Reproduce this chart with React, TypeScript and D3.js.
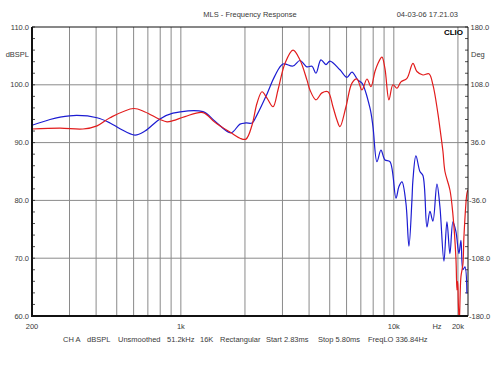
import * as d3 from 'd3'

// frequency response (Hz / dBSPL)
const blueFreq = [200, 243, 271, 325, 404, 465, 518, 609, 679, 798, 918, 1270, 1446, 1719, 1895, 2022, 2158, 2278, 2530, 2760, 3017, 3362, 3626, 3911, 4128, 4309, 4548, 4802, 5013, 5585, 6026, 6360, 6787, 7087, 7725, 7979, 8332, 8700, 9086, 9591, 10233, 10568, 10917, 11400, 11776, 12162, 12294, 12700, 13262, 13698, 14306, 14777, 15264, 15937, 16462, 17190, 17759, 18343, 18949, 19573, 20218, 20660, 21111, 21572, 22044]
const blueDb = [93.0, 94.0, 94.4, 94.7, 94.3, 93.4, 92.4, 91.3, 92.0, 94.1, 95.1, 95.35, 93.7, 91.7, 93.2, 93.4, 93.4, 94.8, 98.3, 101.5, 103.6, 103.25, 104.2, 103.1, 103.2, 102.0, 104.3, 103.5, 104.1, 102.6, 101.3, 102.2, 100.8, 100.3, 96.0, 92.8, 86.7, 88.7, 87.0, 86.7, 80.4, 82.4, 83.2, 79.5, 72.1, 80.0, 83.5, 87.7, 85.0, 84.3, 75.4, 78.1, 76.4, 82.8, 78.9, 69.5, 76.3, 70.8, 76.3, 74.6, 70.8, 73.1, 68.0, 68.5, 63.9]

const redFreq = [200, 271, 347, 404, 465, 600, 679, 798, 861, 918, 1046, 1270, 1446, 1719, 1895, 2022, 2158, 2278, 2404, 2538, 2708, 2858, 3082, 3362, 3626, 3911, 4039, 4309, 4598, 4906, 5178, 5407, 5585, 5961, 6360, 6713, 7087, 7480, 7809, 8154, 8422, 8795, 9086, 9487, 9906, 10343, 10800, 11524, 12294, 12838, 13698, 14618, 15264, 16110, 16462, 17005, 17380, 18343, 18949, 19573, 19786, 19950, 20100, 20300, 20660, 21111, 21341, 22044, 22282]
const redDb = [92.35, 92.5, 92.35, 92.9, 94.3, 95.9, 95.3, 94.0, 93.6, 93.8, 94.5, 95.2, 93.5, 91.7, 90.75, 90.6, 93.0, 96.8, 98.8, 97.7, 96.2, 99.1, 103.7, 106.0, 104.3, 100.8, 99.1, 97.4, 98.6, 98.8, 96.2, 93.9, 92.75, 96.2, 100.3, 101.0, 99.1, 101.0, 99.7, 102.3, 103.7, 104.8, 102.8, 97.4, 100.0, 99.4, 100.5, 101.1, 103.7, 102.3, 101.7, 101.9, 100.0, 95.0, 92.5, 88.5, 85.0, 81.8, 77.5, 70.0, 64.5, 66.0, 62.0, 59.0, 66.8, 69.0, 73.7, 81.2, 81.8]

const dbTicks = [110, 100, 90, 80, 70, 60]
const degTicks = [180, 108, 36, -36, -108, -180]
const gridFreqs = [300, 400, 500, 600, 700, 800, 900, 1000, 2000, 3000, 4000, 5000, 6000, 7000, 8000, 9000, 10000, 20000]
const freqLabels = [
  { f: 200, label: '200' },
  { f: 1000, label: '1k' },
  { f: 10000, label: '10k' },
  { f: 20000, label: '20k' },
]
const infoItems = ['CH A', 'dBSPL', 'Unsmoothed', '51.2kHz', '16K', 'Rectangular', 'Start 2.83ms', 'Stop 5.80ms', 'FreqLO 336.84Hz']
const infoX = [63, 87, 118, 167, 200, 220, 266, 318, 368]

const font = '"Liberation Sans", Arial, sans-serif'
const textCol = '#3a3a3a'

const App = () => {
  const svgWidth = 500
  const svgHeight = 375
  const left = 32
  const right = 468
  const top = 27
  const bottom = 316

  const x = d3.scaleLog().domain([200, 22300]).range([left, right])
  const y = d3.scaleLinear().domain([60, 110]).range([bottom, top])
  const yDeg = d3.scaleLinear().domain([-180, 180]).range([bottom, top])

  const line = d3
    .line<[number, number]>()
    .x(d => x(d[0]))
    .y(d => y(d[1]))
    .curve(d3.curveCatmullRom.alpha(0.5))

  const blue = line(blueFreq.map((f, i) => [f, blueDb[i]])) as string
  const red = line(redFreq.map((f, i) => [f, redDb[i]])) as string

  const minor = d3.range(60, 110.01, 2)

  return (
    <svg
      width={svgWidth}
      height={svgHeight}
      style={{ position: 'absolute', left: 0, top: 0, background: '#fff' }}
      fontFamily={font}
    >
      <defs>
        <clipPath id="plot">
          <rect x={left} y={top} width={right - left} height={bottom - top} />
        </clipPath>
      </defs>
      <rect width={svgWidth} height={svgHeight} fill="#fff" />

      {/* grid */}
      {gridFreqs.map(f => (
        <line key={f} x1={x(f)} x2={x(f)} y1={top} y2={bottom} stroke="#8a8a8a" strokeWidth={1} />
      ))}
      {dbTicks.slice(1, -1).map(v => (
        <line key={v} x1={left} x2={right} y1={y(v)} y2={y(v)} stroke="#8a8a8a" strokeWidth={1} />
      ))}

      {/* minor ticks, inside both vertical axes */}
      {minor.map(v => (
        <g key={v}>
          <line x1={left} x2={left + 3} y1={y(v)} y2={y(v)} stroke="#222" strokeWidth={0.8} />
          <line x1={right - 3} x2={right} y1={y(v)} y2={y(v)} stroke="#222" strokeWidth={0.8} />
        </g>
      ))}

      {/* curves */}
      <g clipPath="url(#plot)" fill="none" strokeWidth={1.2} strokeLinejoin="round">
        <path d={blue} stroke="#1c1cd2" />
        <path d={red} stroke="#e21c1c" />
      </g>

      {/* frame */}
      <line x1={left} x2={right} y1={top} y2={top} stroke="#111" strokeWidth={1} />
      <line x1={right} x2={right} y1={top} y2={bottom} stroke="#111" strokeWidth={1} />
      <line x1={left} x2={left} y1={top} y2={bottom + 1} stroke="#111" strokeWidth={2} />
      <line x1={left} x2={right} y1={bottom} y2={bottom} stroke="#111" strokeWidth={2} />

      {/* left axis */}
      {dbTicks.map(v => (
        <text key={v} x={29} y={y(v)} dy="0.35em" textAnchor="end" fontSize={7.5} fill={textCol}>
          {v.toFixed(1)}
        </text>
      ))}
      <text x={29} y={57} textAnchor="end" fontSize={7.5} fill={textCol}>dBSPL</text>

      {/* right axis */}
      {degTicks.map(v => (
        <text key={v} x={v < 0 ? 469 : 470.5} y={yDeg(v)} dy="0.35em" textAnchor="start" fontSize={7.5} fill={textCol}>
          {v.toFixed(1)}
        </text>
      ))}
      <text x={471} y={57} textAnchor="start" fontSize={7.5} fill={textCol}>Deg</text>

      {/* bottom axis */}
      {freqLabels.map(d => (
        <text key={d.label} x={x(d.f)} y={329} textAnchor="middle" fontSize={7.5} fill={textCol}>
          {d.label}
        </text>
      ))}
      <text x={437} y={329} textAnchor="middle" fontSize={7.5} fill={textCol}>Hz</text>

      {infoItems.map((s, i) => (
        <text key={s} x={infoX[i]} y={342} fontSize={7.5} fill={textCol}>{s}</text>
      ))}

      {/* header */}
      <text x={250} y={17} textAnchor="middle" fontSize={7.5} fill={textCol}>MLS - Frequency Response</text>
      <text x={458} y={17} textAnchor="end" fontSize={7.5} fill={textCol}>04-03-06 17.21.03</text>
      <text x={463} y={34.5} textAnchor="end" fontSize={8} fontWeight="bold" fill="#000">CLIO</text>
    </svg>
  )
}

export default App
